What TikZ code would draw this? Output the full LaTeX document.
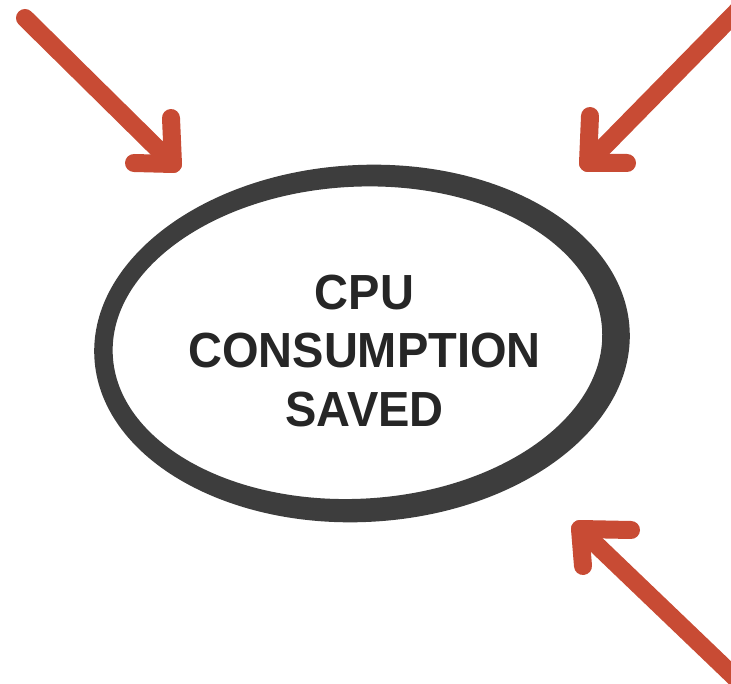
\documentclass[tikz,border=0pt]{standalone}
\usepackage{fontspec}
\usetikzlibrary{calc}
\setmainfont{Liberation Sans}
\definecolor{arrowred}{HTML}{C84B34}
\definecolor{ringgray}{HTML}{3D3D3D}
\definecolor{textgray}{HTML}{262626}
\tikzset{
  arrowline/.style={draw=arrowred, line width=18pt, line cap=round, line join=round},
  headfill/.style={fill=arrowred},
  ring/.style={fill=ringgray, even odd rule},
  labeltext/.style={font=\fontsize{47}{55.5}\selectfont\bfseries, align=center, text=textgray, inner sep=0pt, yscale=1.05}
}
\begin{document}
\begin{tikzpicture}[x=1pt,y=-1pt]
\useasboundingbox (0,0) rectangle (731,684);
\fill[white] (0,0) rectangle (731,684);
\begin{scope}
\clip (0,0) rectangle (731,684);
% ring (hand-drawn ellipse)
\fill[ring, rotate around={3:(362,343.5)}]
  (362,343.5) ellipse [x radius=268, y radius=178.5]
  (357.5,342.5) ellipse [x radius=245, y radius=156];
% overlapping stroke end at the top
\fill[ringgray] (262,196) .. controls (285,186) and (300,183) .. (320,178)
  .. controls (305,186) and (290,190) .. (268,198) -- cycle;
% label
\node[labeltext] (label) at (364.5,351) {CPU\\CONSUMPTION\\SAVED};
% arrow 1 (top left)
\coordinate (s1) at (25,18);
\coordinate (t1) at (173,164);
\coordinate (a1) at (171,118);
\coordinate (b1) at (134,163);
\draw[arrowline] (s1) -- (t1);
\draw[arrowline] (a1) -- (t1) -- (b1);
\fill[headfill] (t1) -- ($(t1)!0.45!(a1)$) -- ($(t1)!0.45!(b1)$) -- cycle;
% arrow 2 (top right)
\coordinate (s2) at (748,0);
\coordinate (t2) at (588,163);
\coordinate (a2) at (590,116);
\coordinate (b2) at (627,163);
\draw[arrowline] (s2) -- (t2);
\draw[arrowline] (a2) -- (t2) -- (b2);
\fill[headfill] (t2) -- ($(t2)!0.45!(a2)$) -- ($(t2)!0.45!(b2)$) -- cycle;
% arrow 3 (bottom right)
\coordinate (s3) at (748,690);
\coordinate (t3) at (580,529);
\coordinate (a3) at (631,530);
\coordinate (b3) at (583,566);
\draw[arrowline] (s3) -- (t3);
\draw[arrowline] (a3) -- (t3) -- (b3);
\fill[headfill] (t3) -- ($(t3)!0.45!(a3)$) -- ($(t3)!0.45!(b3)$) -- cycle;
\end{scope}
\end{tikzpicture}
\end{document}
